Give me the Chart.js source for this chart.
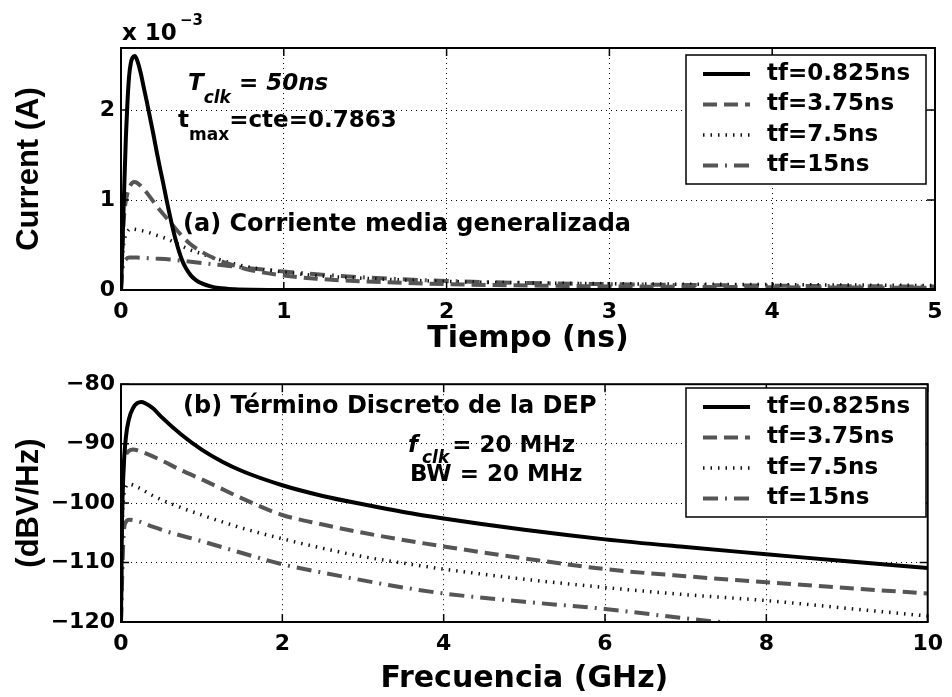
<!DOCTYPE html>
<html>
<head>
<meta charset="utf-8">
<script src="https://cdn.jsdelivr.net/npm/chart.js@4.4.1/dist/chart.umd.min.js"></script>
<style>
    body { margin: 0; background: #fff; width: 952px; height: 697px; overflow: hidden; position: relative; }
    canvas { position: absolute; left: 0; }
    #topChart { top: 0; }
    #botChart { top: 365px; }
</style>
</head>
<body>
<canvas id="topChart" width="952" height="365"></canvas>
<canvas id="botChart" width="952" height="332"></canvas>
<script>
// Corriente media generalizada / Termino discreto de la DEP

const seriesLabels = ['tf=0.825ns', 'tf=3.75ns', 'tf=7.5ns', 'tf=15ns'];

// (a) time in ns, current in units of 1e-3 A
const t1 = [0, 0.01, 0.02, 0.03, 0.04, 0.05, 0.06, 0.07, 0.085, 0.10, 0.12, 0.14, 0.16, 0.18, 0.20, 0.22, 0.24, 0.26, 0.28, 0.30, 0.32, 0.34, 0.36, 0.38, 0.40, 0.43, 0.46, 0.50, 0.55, 0.60, 0.70, 0.80, 1.0, 1.5, 5];
const i1 = [0, 0.55, 1.15, 1.7, 2.1, 2.38, 2.52, 2.58, 2.6, 2.55, 2.42, 2.25, 2.08, 1.9, 1.72, 1.53, 1.35, 1.18, 1.0, 0.83, 0.67, 0.53, 0.41, 0.31, 0.24, 0.16, 0.11, 0.07, 0.04, 0.022, 0.008, 0.003, 0.001, 0, 0];
const t2 = [0, 0.01, 0.02, 0.04, 0.06, 0.08, 0.10, 0.14, 0.18, 0.22, 0.28, 0.35, 0.42, 0.50, 0.60, 0.70, 0.80, 1.0, 1.2, 1.5, 2.0, 2.5, 3.0, 3.5, 4.0, 4.5, 5.0];
const i2 = [0, 0.55, 0.85, 1.08, 1.17, 1.2, 1.19, 1.12, 1.03, 0.93, 0.80, 0.65, 0.52, 0.42, 0.33, 0.27, 0.22, 0.16, 0.125, 0.095, 0.065, 0.05, 0.04, 0.035, 0.03, 0.027, 0.025];
const t3 = [0, 0.01, 0.02, 0.04, 0.06, 0.10, 0.15, 0.20, 0.28, 0.35, 0.42, 0.50, 0.60, 0.70, 0.80, 1.0, 1.2, 1.5, 2.0, 2.5, 3.0, 4.0, 5.0];
const i3 = [0, 0.4, 0.55, 0.65, 0.68, 0.67, 0.65, 0.62, 0.57, 0.51, 0.45, 0.40, 0.34, 0.29, 0.25, 0.20, 0.16, 0.13, 0.095, 0.08, 0.07, 0.06, 0.05];
const t4 = [0, 0.01, 0.03, 0.05, 0.10, 0.20, 0.30, 0.40, 0.50, 0.60, 0.80, 1.0, 1.2, 1.5, 2.0, 2.5, 3.0, 3.5, 4.0, 4.5, 5.0];
const i4 = [0, 0.25, 0.34, 0.36, 0.36, 0.35, 0.34, 0.32, 0.30, 0.28, 0.24, 0.205, 0.175, 0.14, 0.10, 0.078, 0.065, 0.055, 0.048, 0.042, 0.038];

// (b) frequency in GHz, level in dBV/Hz
const f1 = [0, 0.01, 0.03, 0.06, 0.1, 0.15, 0.2, 0.25, 0.3, 0.4, 0.5, 0.75, 1.0, 1.25, 1.5, 2, 2.5, 3, 3.5, 4, 5, 6, 7, 8, 9, 10];
const p1 = [-120, -105, -95, -89, -85.8, -84, -83.2, -83, -83.2, -84.1, -85.5, -88.5, -91, -93, -94.6, -97, -98.8, -100.2, -101.5, -102.6, -104.5, -106.1, -107.4, -108.6, -109.8, -110.9];
const f2 = [0, 0.02, 0.05, 0.1, 0.15, 0.2, 0.3, 0.5, 0.75, 1.0, 1.5, 2, 2.5, 3, 3.5, 4, 5, 6, 7, 8, 9, 10];
const p2 = [-120, -97, -92.5, -91.2, -91, -91.1, -91.6, -92.8, -94.5, -96, -99.2, -102, -103.6, -105, -106.2, -107.3, -109.3, -111.1, -112.3, -113.3, -114.3, -115.2];
const f3 = [0, 0.02, 0.05, 0.1, 0.2, 0.4, 0.6, 1.0, 1.5, 2, 2.5, 3, 3.5, 4, 5, 6, 7, 8, 9, 10];
const p3 = [-120, -102, -97.8, -96.8, -97.3, -98.8, -100, -102, -104.2, -106, -107.6, -109, -110.1, -111.1, -112.8, -114.2, -115.4, -116.4, -117.7, -119];
const f4 = [0, 0.03, 0.06, 0.1, 0.2, 0.4, 0.6, 1.0, 1.5, 2, 2.5, 3, 3.5, 4, 5, 6, 7, 8, 9, 10];
const p4 = [-120, -106, -103.2, -102.8, -103, -104, -104.9, -106.4, -108.4, -110.3, -111.7, -113, -114.2, -115.2, -116.6, -117.8, -119.4, -120.8, -122.2, -123.3];

const timeTicks = [0, 1, 2, 3, 4, 5];
const currentTicks = [0, 1, 2];
const freqTicks = [0, 2, 4, 6, 8, 10];
const psdTicks = [-120, -110, -100, -90, -80];

const styles = [
    { color: '#000000', width: 4, dash: [] },
    { color: '#555555', width: 4, dash: [14, 7] },
    { color: '#111111', width: 3.5, dash: [1.5, 6] },
    { color: '#555555', width: 4, dash: [15, 7, 2, 7] }
];

const FONT = '"DejaVu Sans"';

function toXY(xs, ys) {
    return xs.map((x, k) => ({ x: x, y: ys[k] }));
}

function fmt(v) {
    return v < 0 ? '\u2212' + Math.abs(v) : String(v);
}

function makeDatasets(pairs) {
    return pairs.map((p, k) => ({
        label: seriesLabels[k],
        data: toXY(p[0], p[1]),
        borderColor: styles[k].color,
        borderWidth: styles[k].width,
        borderDash: styles[k].dash,
        borderCapStyle: 'butt',
        pointRadius: 0,
        fill: false,
        cubicInterpolationMode: 'monotone'
    }));
}

function axis(tickVals, min, max, title, isX, fitSize, titlePad) {
    return {
        type: 'linear',
        min: min,
        max: max,
        afterBuildTicks: s => { s.ticks = tickVals.map(v => ({ value: v })); },
        afterFit: s => { if (isX) s.height = fitSize; else s.width = fitSize; },
        ticks: {
            color: '#000',
            autoSkip: false,
            maxRotation: 0,
            padding: isX ? 9 : 6,
            font: { family: FONT, weight: 'bold', size: 22 },
            callback: v => fmt(v)
        },
        grid: { color: '#000', lineWidth: 1, drawTicks: false },
        border: { display: false, dash: [1, 4] },
        title: {
            display: true,
            text: title,
            color: '#000',
            font: isX ? { family: FONT, weight: 'bold', size: 30 }
                      : { family: '"Liberation Sans"', weight: 'bold', size: 31 },
            padding: titlePad
        }
    };
}

function drawFrame(chart) {
    const ctx = chart.ctx;
    const a = chart.chartArea;
    const xs = chart.scales.x, ys = chart.scales.y;
    ctx.save();
    ctx.setLineDash([]);
    ctx.strokeStyle = '#000';
    ctx.lineWidth = 1.5;
    ctx.beginPath();
    xs.ticks.forEach(t => {
        const px = xs.getPixelForValue(t.value);
        ctx.moveTo(px, a.bottom); ctx.lineTo(px, a.bottom - 8);
        ctx.moveTo(px, a.top); ctx.lineTo(px, a.top + 8);
    });
    ys.ticks.forEach(t => {
        const py = ys.getPixelForValue(t.value);
        ctx.moveTo(a.left, py); ctx.lineTo(a.left + 8, py);
        ctx.moveTo(a.right, py); ctx.lineTo(a.right - 8, py);
    });
    ctx.stroke();
    ctx.lineWidth = 2;
    ctx.strokeRect(a.left, a.top, a.right - a.left, a.bottom - a.top);
    ctx.restore();
}

function drawLegend(ctx, x, y) {
    const w = 240, h = 129;
    ctx.save();
    ctx.fillStyle = '#fff';
    ctx.fillRect(x, y, w, h);
    ctx.strokeStyle = '#000';
    ctx.lineWidth = 1.5;
    ctx.setLineDash([]);
    ctx.strokeRect(x, y, w, h);
    ctx.textBaseline = 'middle';
    ctx.font = 'bold 23px ' + FONT;
    seriesLabels.forEach((lab, k) => {
        const cy = y + 19 + k * 30.5;
        ctx.strokeStyle = styles[k].color;
        ctx.lineWidth = styles[k].width;
        ctx.setLineDash(styles[k].dash);
        ctx.beginPath();
        ctx.moveTo(x + 17, cy);
        ctx.lineTo(x + 64, cy);
        ctx.stroke();
        ctx.setLineDash([]);
        ctx.fillStyle = '#000';
        ctx.fillText(lab, x + 81, cy);
    });
    ctx.restore();
}

// text pieces drawn one after another, with optional subscript drop
function runs(ctx, x, y, parts) {
    ctx.save();
    ctx.fillStyle = '#000';
    ctx.textBaseline = 'alphabetic';
    parts.forEach(p => {
        ctx.font = (p.italic ? 'italic ' : '') + 'bold ' + p.size + 'px ' + FONT;
        x += p.gap || 0;
        ctx.fillText(p.t, x, y + (p.dy || 0));
        x += ctx.measureText(p.t).width;
    });
    ctx.restore();
}

const baseOptions = {
    responsive: false,
    animation: false,
    events: [],
    plugins: { legend: { display: false }, tooltip: { enabled: false } }
};

new Chart(document.getElementById('topChart'), {
    type: 'line',
    data: { datasets: makeDatasets([[t1, i1], [t2, i2], [t3, i3], [t4, i4]]) },
    options: Object.assign({}, baseOptions, {
        layout: { padding: { top: 48, right: 17, left: 0, bottom: 0 } },
        scales: {
            x: axis(timeTicks, 0, 5, 'Tiempo (ns)', true, 75, { top: 0, bottom: 8 }),
            y: axis(currentTicks, 0, 2.69, 'Current (A)', false, 121, { top: 11, bottom: 0 })
        }
    }),
    plugins: [{
        id: 'topDecor',
        afterDraw(chart) {
            const ctx = chart.ctx;
            drawFrame(chart);
            drawLegend(ctx, 686, 55);
            runs(ctx, 122, 40, [{ t: 'x 10', size: 23 }]);
            runs(ctx, 180, 25, [{ t: '\u22123', size: 15 }]);
            runs(ctx, 188, 90, [
                { t: 'T', size: 23, italic: true },
                { t: 'clk', size: 17, italic: true, dy: 13 },
                { t: ' = 50ns', size: 23, italic: true }
            ]);
            runs(ctx, 178, 127, [
                { t: 't', size: 23 },
                { t: 'max', size: 17, dy: 13 },
                { t: '=cte=0.7863', size: 23 }
            ]);
            runs(ctx, 183, 231, [{ t: '(a) Corriente media generalizada', size: 24 }]);
        }
    }]
});

new Chart(document.getElementById('botChart'), {
    type: 'line',
    data: { datasets: makeDatasets([[f1, p1], [f2, p2], [f3, p3], [f4, p4]]) },
    options: Object.assign({}, baseOptions, {
        layout: { padding: { top: 15, right: 17, left: 0, bottom: 0 } },
        scales: {
            x: axis(freqTicks, 0, 10, 'Frecuencia (GHz)', true, 75, { top: 0, bottom: 0 }),
            y: axis(psdTicks, -120, -80, '(dBV/Hz)', false, 121, { top: 11, bottom: 0 })
        }
    }),
    plugins: [{
        id: 'botDecor',
        afterDraw(chart) {
            const ctx = chart.ctx;
            drawFrame(chart);
            drawLegend(ctx, 686, 23);
            runs(ctx, 183, 48, [{ t: '(b) T\u00e9rmino Discreto de la DEP', size: 24 }]);
            runs(ctx, 408, 87, [
                { t: 'f', size: 23, italic: true },
                { t: 'clk', size: 17, italic: true, dy: 11, gap: 4 },
                { t: '= 20 MHz', size: 23, gap: 3 }
            ]);
            runs(ctx, 410, 116, [{ t: 'BW = 20 MHz', size: 23 }]);
        }
    }]
});
</script>
</body>
</html>
